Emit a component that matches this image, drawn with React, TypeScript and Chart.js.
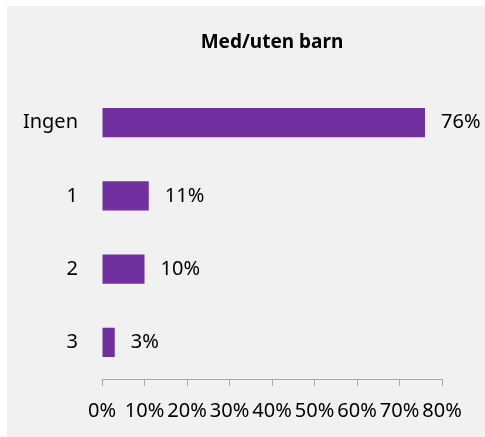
import React, { useEffect, useRef } from "react";
import { Chart, registerables } from "chart.js";

Chart.register(...registerables);

const categories = ["Ingen", "1", "2", "3"];
const values = [76, 11, 10, 3];
const xTicks = [0, 10, 20, 30, 40, 50, 60, 70, 80];
const title = "Med/uten barn";

const FONT = "'Noto Sans', 'Open Sans', sans-serif";

export default function App() {
  const ref = useRef<HTMLCanvasElement | null>(null);

  useEffect(() => {
    document.body.style.margin = "0";
    const canvas = ref.current;
    if (!canvas) return;

    const bgPlugin = {
      id: "bgPanel",
      beforeDraw(chart: any) {
        const { ctx } = chart;
        ctx.save();
        ctx.fillStyle = "#ffffff";
        ctx.fillRect(0, 0, chart.width, chart.height);
        ctx.fillStyle = "#f1f1f1";
        ctx.fillRect(7, 6, chart.width - 7, chart.height - 6);
        ctx.restore();
      },
    };

    const titlePlugin = {
      id: "customTitle",
      afterDraw(chart: any) {
        const { ctx, chartArea } = chart;
        ctx.save();
        ctx.font = `bold 19px ${FONT}`;
        ctx.fillStyle = "#000000";
        ctx.textAlign = "center";
        ctx.textBaseline = "middle";
        ctx.fillText(title, (chartArea.left + chartArea.right) / 2, 43);
        ctx.restore();
      },
    };

    const labelPlugin = {
      id: "valueLabels",
      afterDatasetsDraw(chart: any) {
        const { ctx } = chart;
        const meta = chart.getDatasetMeta(0);
        ctx.save();
        ctx.font = `20px ${FONT}`;
        ctx.fillStyle = "#000000";
        ctx.textAlign = "left";
        ctx.textBaseline = "middle";
        meta.data.forEach((bar: any, i: number) => {
          ctx.fillText(values[i] + "%", bar.x + 16, bar.y);
        });
        ctx.restore();
      },
    };

    const chart = new Chart(canvas, {
      type: "bar",
      data: {
        labels: categories,
        datasets: [
          {
            data: values,
            backgroundColor: "#7030A0",
            borderWidth: 0,
            barPercentage: 0.4,
            categoryPercentage: 1,
          },
        ],
      },
      options: {
        indexAxis: "y",
        animation: false,
        responsive: false,
        maintainAspectRatio: false,
        layout: { padding: { top: 86, right: 43, left: 0, bottom: 0 } },
        plugins: {
          legend: { display: false },
          title: { display: false },
          tooltip: { enabled: false },
        },
        scales: {
          x: {
            type: "linear",
            min: 0,
            max: 80,
            afterBuildTicks(scale: any) {
              scale.ticks = xTicks.map((v) => ({ value: v }));
            },
            afterFit(scale: any) {
              scale.height = 58;
            },
            grid: {
              display: true,
              drawOnChartArea: false,
              drawTicks: true,
              tickLength: 7,
              color: "#a6a6a6",
              lineWidth: 1,
            },
            border: { display: true, color: "#a6a6a6", width: 1 },
            ticks: {
              autoSkip: false,
              maxRotation: 0,
              minRotation: 0,
              padding: 13,
              color: "#000000",
              font: { family: FONT, size: 20 },
              callback: (v: any) => v + "%",
            },
          },
          y: {
            grid: { display: false },
            border: { display: false },
            afterFit(scale: any) {
              scale.width = 102;
            },
            ticks: {
              padding: 16,
              color: "#000000",
              font: { family: FONT, size: 20 },
            },
          },
        },
      },
      plugins: [bgPlugin, titlePlugin, labelPlugin],
    });

    return () => chart.destroy();
  }, []);

  return (
    <div style={{ width: 485, height: 437 }}>
      <canvas ref={ref} width={485} height={437} style={{ display: "block" }} />
    </div>
  );
}
